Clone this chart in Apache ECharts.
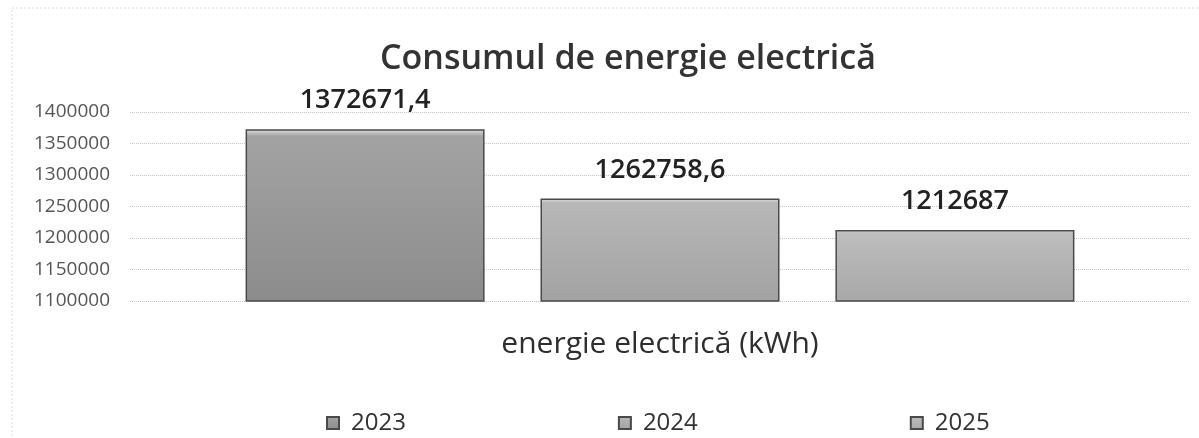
<!DOCTYPE html>
<html>
<head>
<meta charset="utf-8">
<script src="https://cdn.jsdelivr.net/npm/echarts@6/dist/echarts.min.js"></script>
<style>
  html, body { margin: 0; padding: 0; background: #fff; }
  #chart { width: 1199px; height: 438px; }
</style>
</head>
<body>
<div id="chart"></div>
<script>
var categories = ['energie electrică (kWh)'];
var years = ['2023', '2024', '2025'];
var consum = [1372671.4, 1262758.6, 1212687];
var yMin = 1100000, yMax = 1400000, yStep = 50000;

var barFills = [
    ['#a3a3a3', '#8c8c8c'],
    ['#b8b8b8', '#a2a2a2'],
    ['#bdbdbd', '#a8a8a8']
];

function fill(i) {
    return new echarts.graphic.LinearGradient(0, 0, 0, 1, [
        { offset: 0, color: '#e2e2e2' },
        { offset: 0.04, color: barFills[i][0] },
        { offset: 1, color: barFills[i][1] }
    ]);
}

var series = years.map(function (y, i) {
    return {
        name: y,
        type: 'bar',
        barWidth: 239,
        barGap: '23.4%',
        data: [consum[i]],
        itemStyle: {
            color: fill(i),
            borderColor: '#4a4a4a',
            borderWidth: 1.5
        },
        label: {
            show: true,
            position: 'top',
            distance: 15,
            fontFamily: 'Open Sans',
            fontWeight: 600,
            fontSize: 27,
            color: '#222',
            formatter: function (p) { return String(p.value).replace('.', ','); }
        }
    };
});

var option = {
    animation: false,
    backgroundColor: '#fff',
    title: {
        text: 'Consumul de energie electrică',
        left: 375,
        top: 37,
        textStyle: {
            fontFamily: 'Open Sans',
            fontWeight: 600,
            fontSize: 34,
            color: '#333'
        }
    },
    legend: {
        data: years,
        left: 321,
        top: 406,
        itemWidth: 12,
        itemHeight: 12,
        itemGap: 212,
        icon: 'rect',
        textStyle: {
            fontFamily: 'Open Sans',
            fontSize: 24,
            color: '#333',
            padding: [0, 0, 0, 7]
        }
    },
    grid: { left: 130, right: 9, top: 112, bottom: 137 },
    xAxis: {
        type: 'category',
        data: categories,
        axisLine: { show: false },
        axisTick: { show: false },
        axisLabel: {
            margin: 28,
            fontFamily: 'Open Sans',
            fontWeight: 500,
            fontSize: 30,
            color: '#2e2e2e'
        }
    },
    yAxis: {
        type: 'value',
        min: yMin,
        max: yMax,
        interval: yStep,
        axisLine: { show: false },
        axisTick: { show: false },
        axisLabel: {
            margin: 20,
            fontFamily: 'Open Sans',
            fontSize: 19,
            color: '#555',
            formatter: function (v) { return String(v); }
        },
        splitLine: { lineStyle: { color: '#c4c4c4', type: 'dotted', width: 1 } }
    },
    graphic: [{
        type: 'rect',
        shape: { x: 12, y: 8, width: 1200, height: 440 },
        style: { fill: 'none', stroke: '#dcdcdc', lineWidth: 1, lineDash: [2, 2] },
        silent: true
    }],
    series: series
};

echarts.init(document.getElementById('chart')).setOption(option);
</script>
</body>
</html>
